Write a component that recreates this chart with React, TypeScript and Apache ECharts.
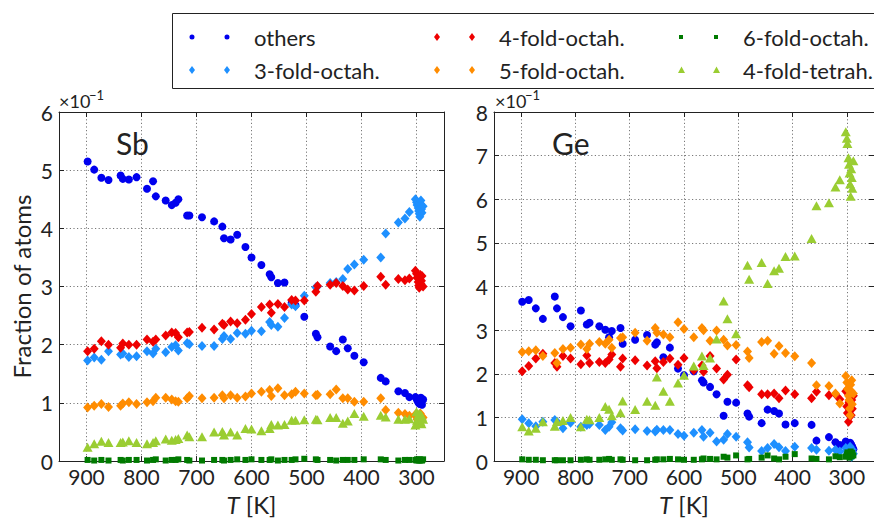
import React, { useEffect, useRef } from 'react';
import * as echarts from 'echarts';

// Simulation snapshot temperatures (K), shared by both panels
const temperatures = [
  898, 886, 873, 860, 838, 834, 823, 809, 790, 779,
  774, 756, 745, 738, 733, 717, 713, 690, 668, 653,
  650, 638, 626, 611, 600, 582, 567, 564, 552, 540,
  527, 520, 504, 483, 480, 457, 446, 434, 425, 413,
  396, 365, 356, 333, 321, 313,
  302, 300, 299, 297, 296, 295, 294, 293, 292, 291, 290, 288,
];

const xTicks = [300, 400, 500, 600, 700, 800, 900];
const seriesNames = ['others', '3-fold-octah.', '4-fold-octah.', '5-fold-octah.', '6-fold-octah.', '4-fold-tetrah.'];

// Sb panel (fraction of atoms, in units of 1e-1)
const sbOthers = [
  5.15, 5.01, 4.87, 4.83, 4.91, 4.85, 4.84, 4.88, 4.68, 4.81,
  4.55, 4.48, 4.40, 4.44, 4.50, 4.22, 4.22, 4.19, 4.12, 4.03,
  3.83, 3.81, 3.89, 3.68, 3.50, 3.37, 3.21, 3.16, 3.06, 3.07,
  2.72, 2.68, 2.48, 2.19, 2.13, 1.97, 1.89, 2.09, 1.94, 1.81,
  1.70, 1.43, 1.37, 1.20, 1.17, 1.10,
  1.10, 1.08, 1.05, 1.02, 1.00, 1.07, 0.98, 1.04, 1.09, 1.01, 0.97, 1.06,
];
const sbOct3 = [
  1.73, 1.78, 1.74, 1.89, 1.83, 1.85, 1.79, 1.80, 1.89, 1.85,
  1.93, 1.87, 1.96, 1.99, 1.90, 2.03, 2.01, 1.98, 1.98, 2.10,
  2.15, 2.10, 2.20, 2.19, 2.24, 2.23, 2.39, 2.34, 2.31, 2.46,
  2.69, 2.66, 2.84, 2.99, 3.00, 3.06, 3.08, 3.13, 3.30, 3.38,
  3.46, 3.50, 3.91, 4.10, 4.17, 4.28,
  4.50, 4.45, 4.40, 4.35, 4.30, 4.25, 4.20, 4.42, 4.48, 4.33, 4.27, 4.38,
];
const sbOct4 = [
  1.89, 1.93, 2.06, 2.00, 1.95, 2.02, 2.00, 2.00, 2.09, 2.05,
  2.09, 2.16, 2.21, 2.20, 2.13, 2.21, 2.22, 2.29, 2.26, 2.36,
  2.34, 2.40, 2.37, 2.43, 2.53, 2.65, 2.69, 2.55, 2.70, 2.65,
  2.77, 2.76, 2.76, 2.91, 3.01, 3.03, 3.06, 3.01, 2.95, 2.93,
  3.01, 3.17, 3.03, 3.13, 3.11, 3.14,
  3.27, 3.22, 3.15, 3.08, 3.02, 2.98, 3.12, 3.20, 3.05, 3.10, 3.18, 3.00,
];
const sbOct5 = [
  0.92, 0.95, 0.98, 0.93, 0.95, 0.99, 1.01, 0.98, 1.01, 1.03,
  1.09, 1.09, 1.06, 1.03, 1.02, 1.08, 1.12, 1.08, 1.09, 1.13,
  1.08, 1.13, 1.09, 1.11, 1.16, 1.19, 1.22, 1.12, 1.25, 1.13,
  1.15, 1.19, 1.16, 1.13, 1.14, 1.15, 1.23, 1.08, 1.08, 1.02,
  1.02, 1.08, 0.88, 0.83, 0.81, 0.78,
  0.80, 0.76, 0.72, 0.78, 0.70, 0.74, 0.68, 0.82, 0.73, 0.77, 0.71, 0.75,
];
const sbOct6 = [
  0.02, 0.01, 0.02, 0.01, 0.02, 0.01, 0.02, 0.02, 0.01, 0.02,
  0.03, 0.01, 0.02, 0.02, 0.03, 0.02, 0.01, 0.01, 0.02, 0.02,
  0.01, 0.02, 0.03, 0.02, 0.03, 0.02, 0.02, 0.03, 0.01, 0.02,
  0.02, 0.03, 0.04, 0.03, 0.02, 0.02, 0.01, 0.02, 0.02, 0.02,
  0.03, 0.03, 0.02, 0.01, 0.02, 0.02,
  0.02, 0.01, 0.03, 0.02, 0.01, 0.02, 0.03, 0.01, 0.02, 0.02, 0.01, 0.03,
];
const sbTet4 = [
  0.24, 0.30, 0.34, 0.32, 0.32, 0.33, 0.35, 0.32, 0.30, 0.32,
  0.35, 0.38, 0.36, 0.37, 0.39, 0.45, 0.42, 0.42, 0.50, 0.51,
  0.45, 0.50, 0.45, 0.56, 0.55, 0.52, 0.56, 0.63, 0.62, 0.63,
  0.70, 0.70, 0.71, 0.72, 0.71, 0.75, 0.75, 0.65, 0.69, 0.82,
  0.77, 0.79, 0.76, 0.72, 0.72, 0.73,
  0.62, 0.85, 0.70, 0.78, 0.66, 0.82, 0.74, 0.68, 0.80, 0.64, 0.76, 0.72,
];

// Ge panel
const geOthers = [
  3.65, 3.69, 3.50, 3.26, 3.77, 3.50, 3.30, 3.09, 3.45, 3.13,
  3.17, 3.09, 3.01, 2.84, 2.98, 3.05, 2.69, 2.78, 2.89, 2.67,
  2.72, 2.38, 2.60, 2.12, 1.97, 2.06, 1.85, 1.80, 1.70, 1.53,
  1.04, 1.36, 1.34, 1.09, 1.02, 0.87, 1.18, 1.15, 1.09, 0.84,
  0.87, 0.83, 0.47, 0.55, 0.43, 0.37,
  0.45, 0.40, 0.32, 0.28, 0.35, 0.25, 0.42, 0.30, 0.38, 0.22, 0.33, 0.27,
];
const geOct3 = [
  0.96, 0.87, 0.80, 0.90, 0.94, 0.90, 0.75, 0.88, 0.79, 0.83,
  0.85, 0.83, 0.71, 0.79, 0.89, 0.75, 0.70, 0.73, 0.69, 0.68,
  0.72, 0.71, 0.71, 0.62, 0.58, 0.65, 0.71, 0.56, 0.65, 0.45,
  0.49, 0.62, 0.56, 0.43, 0.31, 0.23, 0.30, 0.39, 0.32, 0.23,
  0.33, 0.30, 0.26, 0.24, 0.26, 0.22,
  0.30, 0.25, 0.18, 0.28, 0.12, 0.22, 0.33, 0.15, 0.20, 0.10, 0.26, 0.17,
];
const geOct4 = [
  2.06, 2.18, 2.35, 2.46, 2.25, 2.16, 2.41, 2.35, 2.22, 2.42,
  2.25, 2.27, 2.25, 2.33, 2.44, 2.16, 2.35, 2.31, 2.19, 2.29,
  2.13, 2.27, 2.35, 2.21, 2.36, 2.08, 2.19, 2.05, 2.41, 2.12,
  1.87, 1.98, 2.33, 1.74, 1.69, 1.53, 1.53, 1.55, 1.44, 1.62,
  1.53, 1.44, 1.59, 1.51, 1.53, 1.42,
  1.60, 1.25, 1.10, 0.90, 1.35, 1.15, 1.45, 1.28, 1.05, 1.40, 1.20, 1.50,
];
const geOct5 = [
  2.50, 2.52, 2.54, 2.41, 2.48, 2.25, 2.57, 2.60, 2.67, 2.57,
  2.69, 2.73, 2.69, 2.78, 2.60, 2.82, 2.84, 2.94, 2.76, 3.05,
  2.94, 2.90, 2.84, 3.18, 3.03, 2.84, 3.05, 3.00, 2.76, 2.99,
  2.78, 2.65, 2.66, 2.51, 2.36, 2.73, 2.76, 2.46, 2.64, 2.48,
  2.40, 2.25, 1.74, 1.72, 1.55, 1.32,
  1.95, 1.80, 1.65, 1.50, 1.40, 1.20, 1.05, 1.75, 1.60, 1.85, 1.30, 1.55,
];
const geOct6 = [
  0.04, 0.03, 0.03, 0.02, 0.02, 0.02, 0.02, 0.02, 0.03, 0.04,
  0.03, 0.03, 0.04, 0.05, 0.03, 0.04, 0.03, 0.02, 0.02, 0.03,
  0.04, 0.04, 0.05, 0.04, 0.03, 0.03, 0.04, 0.06, 0.05, 0.04,
  0.10, 0.08, 0.13, 0.04, 0.05, 0.08, 0.13, 0.06, 0.04, 0.10,
  0.16, 0.06, 0.05, 0.04, 0.11, 0.09,
  0.10, 0.15, 0.20, 0.12, 0.18, 0.08, 0.14, 0.22, 0.16, 0.11, 0.19, 0.13,
];
const geTet4 = [
  0.79, 0.69, 0.75, 0.90, 0.80, 0.91, 0.93, 1.00, 0.79, 0.96,
  0.95, 1.00, 1.25, 1.19, 1.04, 1.11, 1.38, 1.18, 1.37, 1.28,
  1.93, 1.60, 1.37, 1.79, 1.97, 2.18, 2.41, 2.19, 2.36, 2.80,
  3.67, 3.26, 2.92, 4.49, 4.17, 4.55, 4.07, 4.36, 4.42, 4.69,
  4.70, 5.10, 5.85, 5.92, 6.28, 6.45,
  7.55, 7.40, 7.28, 6.95, 6.80, 6.60, 6.35, 6.07, 6.70, 6.50, 6.25, 6.88,
];

const FONT = 'Lato, "DejaVu Sans", sans-serif';
const INK = '#222';
const colors = ['#0000ee', '#1e90ff', '#ee0000', '#ff8c00', '#007a00', '#9acd32'];
const symbols = ['circle', 'diamond', 'diamond', 'diamond', 'rect', 'triangle'];
const sizes: any[] = [8, [9, 10], [9, 10], [9, 10], [6, 6], [10, 9]];

// legend icons: two markers inside a 60x10 box (anchored by two moves)
const BOX = 'M0 0 M60 10 ';
const legendIcons = [
  BOX + 'M0.5 5 A2.5 2.5 0 1 0 5.5 5 A2.5 2.5 0 1 0 0.5 5 Z M35.5 5 A2.5 2.5 0 1 0 40.5 5 A2.5 2.5 0 1 0 35.5 5 Z',
  BOX + 'M3 1 L6 5 L3 9 L0 5 Z M38 1 L41 5 L38 9 L35 5 Z',
  BOX + 'M3 1 L6 5 L3 9 L0 5 Z M38 1 L41 5 L38 9 L35 5 Z',
  BOX + 'M3 1 L6 5 L3 9 L0 5 Z M38 1 L41 5 L38 9 L35 5 Z',
  BOX + 'M1 3 L5 3 L5 7 L1 7 Z M36 3 L40 3 L40 7 L36 7 Z',
  BOX + 'M3.5 1.5 L7 8 L0 8 Z M38.5 1.5 L42 8 L35 8 Z',
];

function makeSeries(panel: number, values: number[][]) {
  return values.map((vals, k) => ({
    type: 'scatter',
    name: seriesNames[k],
    xAxisIndex: panel * 2,
    yAxisIndex: panel * 2,
    symbol: symbols[k],
    symbolSize: sizes[k],
    itemStyle: { color: colors[k], opacity: 1 },
    silent: true,
    data: temperatures.map((t, i) => [t, vals[i]]),
  }));
}

const axisLine = { show: true, onZero: false, lineStyle: { color: INK, width: 1 } };
const gridLine = { show: true, lineStyle: { type: [1.2, 2.4], color: '#555', width: 0.8 } };

function xAxes(gridIndex: number) {
  return [
    {
      type: 'value', gridIndex, position: 'bottom', min: 250, max: 950, inverse: true,
      name: '{i|T} [K]', nameLocation: 'middle', nameGap: 30,
      nameTextStyle: {
        fontFamily: FONT, fontSize: 24, color: INK, verticalAlign: 'top',
        rich: { i: { fontFamily: FONT, fontSize: 24, fontStyle: 'italic', color: INK } },
      },
      axisLine,
      axisTick: { show: true, inside: true, length: 5, customValues: xTicks, lineStyle: { color: INK } },
      axisLabel: { show: true, customValues: xTicks, fontFamily: FONT, fontSize: 21, color: INK, margin: 5 },
      splitLine: gridLine,
    },
    {
      type: 'value', gridIndex, position: 'top', min: 250, max: 950, inverse: true,
      axisLine,
      axisTick: { show: true, inside: true, length: 5, customValues: xTicks, lineStyle: { color: INK } },
      axisLabel: { show: false },
      splitLine: { show: false },
    },
  ];
}

function yAxes(gridIndex: number, max: number, name: string) {
  return [
    {
      type: 'value', gridIndex, position: 'left', min: 0, max, interval: 1,
      name, nameLocation: 'middle', nameGap: 26, nameRotate: 90,
      nameTextStyle: { fontFamily: FONT, fontSize: 24, color: INK },
      axisLine,
      axisTick: { show: true, inside: true, length: 5, lineStyle: { color: INK } },
      axisLabel: { fontFamily: FONT, fontSize: 21, color: INK, margin: 6 },
      splitLine: gridLine,
    },
    {
      type: 'value', gridIndex, position: 'right', min: 0, max, interval: 1,
      axisLine,
      axisTick: { show: true, inside: true, length: 5, lineStyle: { color: INK } },
      axisLabel: { show: false },
      splitLine: { show: false },
    },
  ];
}

function legendColumn(left: number, names: string[]) {
  return {
    orient: 'vertical', left, top: 20, itemWidth: 60, itemHeight: 10, itemGap: 9,
    selectedMode: false,
    textStyle: { fontFamily: FONT, fontSize: 22, color: INK, lineHeight: 24 },
    data: names.map((n) => ({ name: n, icon: 'path://' + legendIcons[seriesNames.indexOf(n)] })),
  };
}

function exponentLabel(x: number) {
  return [
    { type: 'text', x, y: 101, style: { text: '×10', fontFamily: FONT, fontSize: 18, fill: INK, align: 'left', verticalAlign: 'middle' } },
    { type: 'text', x: x + 30, y: 95, style: { text: '−1', fontFamily: FONT, fontSize: 13, fill: INK, align: 'left', verticalAlign: 'middle' } },
  ];
}

export default function App() {
  const ref = useRef<HTMLDivElement>(null);
  useEffect(() => {
    if (!ref.current) return;
    const chart = echarts.init(ref.current, null, { renderer: 'svg' });
    chart.setOption({
      animation: false,
      backgroundColor: '#fff',
      grid: [
        { left: 59, top: 112, width: 385, height: 351 },
        { left: 494, top: 112, width: 386, height: 351 },
      ],
      xAxis: [...xAxes(0), ...xAxes(1)],
      yAxis: [...yAxes(0, 6, 'Fraction of atoms'), ...yAxes(1, 8, '')],
      legend: [
        legendColumn(184, ['others', '3-fold-octah.']),
        legendColumn(429, ['4-fold-octah.', '5-fold-octah.']),
        legendColumn(673, ['6-fold-octah.', '4-fold-tetrah.']),
      ],
      graphic: [
        { type: 'rect', z: -1, shape: { x: 172.5, y: 13.5, width: 720, height: 75 }, style: { fill: '#fff', stroke: INK, lineWidth: 1 } },
        { type: 'text', x: 116, y: 143, style: { text: 'Sb', fontFamily: FONT, fontSize: 30, fill: INK, align: 'left', verticalAlign: 'middle' } },
        { type: 'text', x: 552, y: 143, style: { text: 'Ge', fontFamily: FONT, fontSize: 30, fill: INK, align: 'left', verticalAlign: 'middle' } },
        ...exponentLabel(59),
        ...exponentLabel(495),
      ],
      series: [
        ...makeSeries(0, [sbOthers, sbOct3, sbOct4, sbOct5, sbOct6, sbTet4]),
        ...makeSeries(1, [geOthers, geOct3, geOct4, geOct5, geOct6, geTet4]),
      ],
    });
    return () => chart.dispose();
  }, []);
  return <div ref={ref} style={{ position: 'fixed', left: 0, top: 0, width: 874, height: 521 }} />;
}
